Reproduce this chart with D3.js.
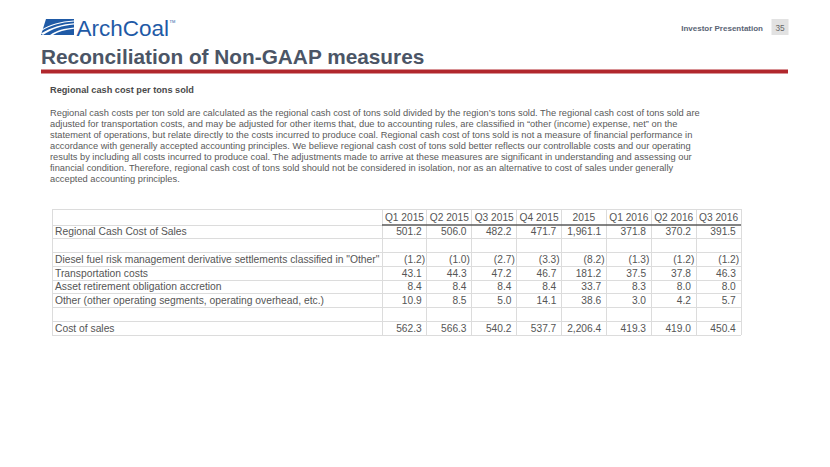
<!DOCTYPE html>
<html><head><meta charset="utf-8">
<script src="https://cdn.jsdelivr.net/npm/d3@7"></script>
<style>
html,body{margin:0;padding:0;background:#fff;}
svg{display:block;font-family:"Liberation Sans",Arial,sans-serif;}
</style></head>
<body><svg id="c" width="830" height="467"></svg>
<script>
const columns = ["Q1 2015","Q2 2015","Q3 2015","Q4 2015","2015","Q1 2016","Q2 2016","Q3 2016"];
const rowLabels = [
  "Regional Cash Cost of Sales",
  "",
  "Diesel fuel risk management derivative settlements classified in \"Other\"",
  "Transportation costs",
  "Asset retirement obligation accretion",
  "Other (other operating segments, operating overhead, etc.)",
  "",
  "Cost of sales"
];
const regionalCash = [501.2,506.0,482.2,471.7,1961.1,371.8,370.2,391.5];
const dieselFuel   = [-1.2,-1.0,-2.7,-3.3,-8.2,-1.3,-1.2,-1.2];
const transport    = [43.1,44.3,47.2,46.7,181.2,37.5,37.8,46.3];
const assetRetire  = [8.4,8.4,8.4,8.4,33.7,8.3,8.0,8.0];
const otherCosts   = [10.9,8.5,5.0,14.1,38.6,3.0,4.2,5.7];
const costOfSales  = [562.3,566.3,540.2,537.7,2206.4,419.3,419.0,450.4];
const rowValues = [regionalCash,null,dieselFuel,transport,assetRetire,otherCosts,null,costOfSales];

const paragraph = [
  "Regional cash costs per ton sold are calculated as the regional cash cost of tons sold divided by the region\u2019s tons sold. The regional cash cost of tons sold are",
  "adjusted for transportation costs, and may be adjusted for other items that, due to accounting rules, are classified in \u201cother (income) expense, net\u201d on the",
  "statement of operations, but relate directly to the costs incurred to produce coal. Regional cash cost of tons sold is not a measure of financial performance in",
  "accordance with generally accepted accounting principles. We believe regional cash cost of tons sold better reflects our controllable costs and our operating",
  "results by including all costs incurred to produce coal. The adjustments made to arrive at these measures are significant in understanding and assessing our",
  "financial condition. Therefore, regional cash cost of tons sold should not be considered in isolation, nor as an alternative to cost of sales under generally",
  "accepted accounting principles."
];

const svg = d3.select("#c");

// ---- Logo ----
const logo = svg.append("g");
logo.append("path")
  .attr("d","M46,19 L74,19 L74,35 L41,35 Z")
  .attr("fill","#1f5aa6");
logo.append("path")
  .attr("d","M41,33.5 C52,27 62,24 74,23.2 L74,24.6 C62,25.6 53,28.5 43,35 Z")
  .attr("fill","#fff");
logo.append("path")
  .attr("d","M41,30 C50,24.5 60,21.5 74,20.6 L74,21.6 C60,22.6 51,25.4 41,31.2 Z")
  .attr("fill","#fff");
logo.append("path")
  .attr("d","M50,35 C57,30.5 64,28.5 74,27.6 L74,28.8 C65,29.8 58,32 53,35 Z")
  .attr("fill","#fff");
logo.append("text").attr("x",76.5).attr("y",35.5)
  .attr("font-size",22.5).attr("fill","#1f5aa6")
  .text("ArchCoal");
logo.append("text").attr("x",169.5).attr("y",22.5)
  .attr("font-size",4).attr("fill","#1f5aa6").text("TM");

// ---- Header right ----
svg.append("text").attr("x",763).attr("y",30.5).attr("text-anchor","end")
  .attr("font-size",8).attr("font-weight","bold").attr("fill","#5a6475")
  .text("Investor Presentation");
svg.append("rect").attr("x",771.5).attr("y",19).attr("width",17).attr("height",16).attr("fill","#e2e2e2");
svg.append("text").attr("x",780).attr("y",30.5).attr("text-anchor","middle")
  .attr("font-size",8.3).attr("fill","#666").text("35");

// ---- Title ----
svg.append("text").attr("x",41).attr("y",64)
  .attr("font-size",20.8).attr("font-weight","bold").attr("fill","#4b5566")
  .text("Reconciliation of Non-GAAP measures");
svg.append("rect").attr("x",41).attr("y",69.5).attr("width",747).attr("height",4).attr("fill","#b1272d");

// ---- Subtitle & paragraph ----
svg.append("text").attr("x",50).attr("y",93.3)
  .attr("font-size",9.2).attr("font-weight","bold").attr("fill","#4a4a4a")
  .text("Regional cash cost per tons sold");
svg.append("g").selectAll("text").data(paragraph).join("text")
  .attr("x",50).attr("y",(d,i)=>116.3+i*10.95)
  .attr("font-size",9.3).attr("fill","#5a5a5a")
  .text(d=>d);

// ---- Table ----
const tLeft = 52, tRight = 741, labelRight = 382;
const headTop = 209, bodyTop = 225, bodyBottom = 335;
const x = d3.scaleBand().domain(columns).range([labelRight, tRight]).padding(0);
const y = d3.scaleBand().domain(d3.range(rowLabels.length)).range([bodyTop, bodyBottom]).padding(0);
const grid = "#dcdcdc";
const tg = svg.append("g");

// horizontal lines
const hLines = [headTop].concat(d3.range(rowLabels.length).map(i=>y(i)+y.bandwidth()));
tg.selectAll("line.h").data(hLines).join("line")
  .attr("x1",tLeft).attr("x2",tRight).attr("y1",d=>d).attr("y2",d=>d)
  .attr("stroke",grid).attr("stroke-width",1).attr("shape-rendering","crispEdges");
// label column header bottom line
tg.append("line").attr("x1",tLeft).attr("x2",labelRight).attr("y1",bodyTop).attr("y2",bodyTop)
  .attr("stroke",grid).attr("shape-rendering","crispEdges");
// vertical lines
const vLines = [tLeft, labelRight].concat(columns.map(c=>x(c)+x.bandwidth()));
tg.selectAll("line.v").data(vLines).join("line")
  .attr("x1",d=>d).attr("x2",d=>d).attr("y1",headTop).attr("y2",bodyBottom)
  .attr("stroke",grid).attr("stroke-width",1).attr("shape-rendering","crispEdges");
// thick header rule
tg.append("line").attr("x1",labelRight).attr("x2",tRight).attr("y1",bodyTop).attr("y2",bodyTop)
  .attr("stroke","#5a5a5a").attr("stroke-width",1.6);

const txt = "#555";
// header labels
tg.selectAll("text.hd").data(columns).join("text")
  .attr("x",c=>x(c)+x.bandwidth()/2).attr("y",(headTop+bodyTop)/2+3.6)
  .attr("text-anchor","middle").attr("font-size",10.2).attr("fill",txt)
  .text(c=>c);
// row labels
tg.selectAll("text.rl").data(rowLabels).join("text")
  .attr("x",tLeft+3).attr("y",(d,i)=>y(i)+y.bandwidth()/2+3.6)
  .attr("font-size",10.3).attr("fill",txt).text(d=>d);
// values
const fmt = d3.format(",.1f");
const cells = [];
rowValues.forEach((vals,ri)=>{ if(vals) vals.forEach((v,ci)=>cells.push({ri,ci,v})); });
tg.selectAll("text.val").data(cells).join("text")
  .attr("x",d=>x(columns[d.ci])+x.bandwidth()-(d.v<0?1.8:5.2))
  .attr("y",d=>y(d.ri)+y.bandwidth()/2+3.6)
  .attr("text-anchor","end").attr("font-size",10.2).attr("fill",txt)
  .text(d=>d.v<0?"("+fmt(-d.v)+")":fmt(d.v));
</script></body></html>
